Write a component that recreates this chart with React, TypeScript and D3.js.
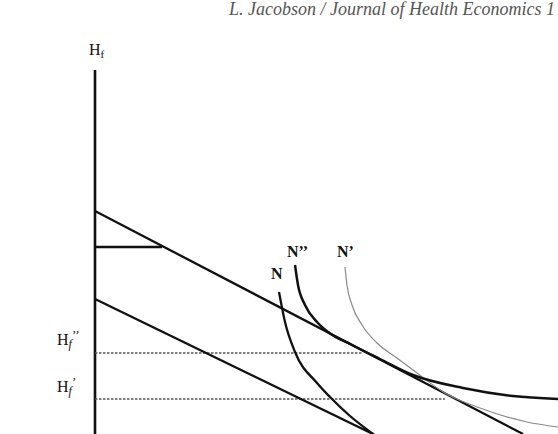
import React from "react";
import * as d3 from "d3";

// Coordinates in diagram units: x = distance right of the Hf axis, y = height above the bottom edge
const upperBudget: [number, number][] = [[0, 223], [428, 0]];
const lowerBudget: [number, number][] = [[0, 135], [278, 0]];
const stepSegment: [number, number][] = [[0, 187], [67, 187]];
const hDoublePrime: [number, number][] = [[0, 81], [267, 81]];
const hPrime: [number, number][] = [[0, 35], [350, 35]];

const curveN: [number, number][] = [
  [184, 142], [190, 112], [200, 82], [222, 51], [235, 37], [255, 18], [278, 0], [286, -6],
];
const curveNdd: [number, number][] = [
  [200, 169], [203, 149], [210, 129], [222, 112], [233, 102], [257, 89], [285, 75], [318, 59], [368, 46], [418, 38], [463, 35],
];
const curveNp: [number, number][] = [
  [250, 167], [252, 149], [257, 129], [267, 109], [282, 91], [302, 76], [322, 61], [350, 41], [385, 26], [432, 12], [463, 7],
];

export default function App() {
  const W = 558, H = 434;
  const x = d3.scaleLinear().domain([0, 463]).range([95, 558]);
  const y = d3.scaleLinear().domain([0, 364]).range([434, 70]);
  const straight = d3.line<[number, number]>().x(d => x(d[0])).y(d => y(d[1]));
  const smooth = d3.line<[number, number]>().x(d => x(d[0])).y(d => y(d[1])).curve(d3.curveMonotoneX);
  const serif = "'Liberation Serif', 'DejaVu Serif', serif";
  const black = "#111";

  return (
    <svg width={W} height={H} style={{ position: "absolute", left: 0, top: 0, background: "#fff" }}>
      <text x={229} y={15} fontFamily={serif} fontStyle="italic" fontSize={18} fill="#555">
        L. Jacobson / Journal of Health Economics 1
      </text>

      {/* vertical Hf axis */}
      <line x1={x(0)} x2={x(0)} y1={y(364)} y2={y(-2)} stroke={black} strokeWidth={2.6} />

      {/* dashed reference levels */}
      <path d={straight(hDoublePrime)!} stroke="#555" strokeWidth={1.6} strokeDasharray="2.5 1.5" fill="none" />
      <path d={straight(hPrime)!} stroke="#555" strokeWidth={1.6} strokeDasharray="2.5 1.5" fill="none" />

      {/* budget lines */}
      <path d={straight(upperBudget)!} stroke={black} strokeWidth={2.3} fill="none" />
      <path d={straight(lowerBudget)!} stroke={black} strokeWidth={2.3} fill="none" />
      <path d={straight(stepSegment)!} stroke={black} strokeWidth={2.3} fill="none" />

      {/* curves */}
      <path d={smooth(curveNp)!} stroke="#8a8a8a" strokeWidth={1.2} fill="none" />
      <path d={smooth(curveN)!} stroke={black} strokeWidth={2.3} fill="none" />
      <path d={smooth(curveNdd)!} stroke={black} strokeWidth={2.5} fill="none" />

      {/* labels */}
      <text x={89} y={55} fontFamily={serif} fontSize={16} fill={black}>
        H<tspan fontSize={11} dy={3}>f</tspan>
      </text>
      <text x={57} y={345} fontFamily={serif} fontSize={16} fill={black}>
        H<tspan fontSize={12} fontStyle="italic" dy={3}>f</tspan><tspan fontSize={13} dy={-9}>’’</tspan>
      </text>
      <text x={57} y={392} fontFamily={serif} fontSize={16} fill={black}>
        H<tspan fontSize={12} fontStyle="italic" dy={3}>f</tspan><tspan fontSize={13} dy={-9}>’</tspan>
      </text>
      <text x={271} y={279} fontFamily={serif} fontSize={16} fontWeight="bold" fill={black}>N</text>
      <text x={287} y={257} fontFamily={serif} fontSize={16} fontWeight="bold" fill={black}>N’’</text>
      <text x={337} y={257} fontFamily={serif} fontSize={16} fontWeight="bold" fill={black}>N’</text>
    </svg>
  );
}
